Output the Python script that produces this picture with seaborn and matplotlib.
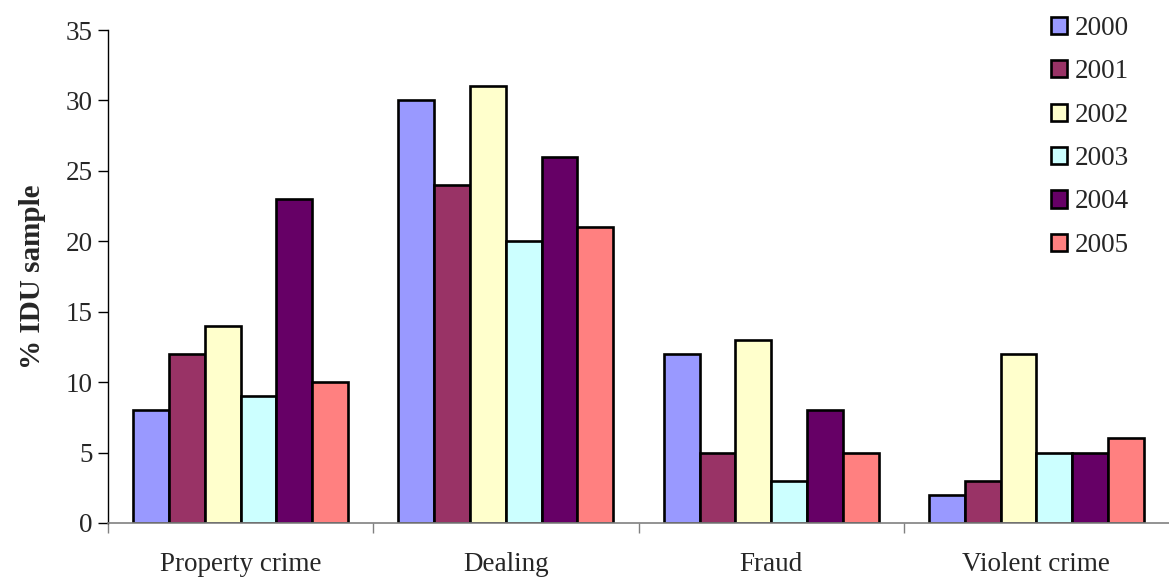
import matplotlib
matplotlib.use("Agg")
import matplotlib.pyplot as plt
import seaborn as sns
import pandas as pd

categories = ["Property crime", "Dealing", "Fraud", "Violent crime"]
years = ["2000", "2001", "2002", "2003", "2004", "2005"]
v2000 = [8, 30, 12, 2]
v2001 = [12, 24, 5, 3]
v2002 = [14, 31, 13, 12]
v2003 = [9, 20, 3, 5]
v2004 = [23, 26, 8, 5]
v2005 = [10, 21, 5, 6]
colors = ["#9999FF", "#993366", "#FFFFCC", "#CCFFFF", "#660066", "#FF8080"]

series = [v2000, v2001, v2002, v2003, v2004, v2005]
rows = []
for y, vals in zip(years, series):
    for c, v in zip(categories, vals):
        rows.append({"Category": c, "Year": y, "Value": v})
df = pd.DataFrame(rows)

sns.set_style("white")
plt.rcParams["font.family"] = ["Liberation Serif", "DejaVu Serif"]

fig = plt.figure(figsize=(11.69, 5.8), dpi=100)
ax = fig.add_axes([108 / 1169, 1 - 523 / 580, (1169 - 108) / 1169, (523 - 30) / 580])

sns.barplot(data=df, x="Category", y="Value", hue="Year", order=categories,
            hue_order=years, palette=colors, width=0.81, edgecolor="black",
            linewidth=1.9, saturation=1, ax=ax, legend=True)

ax.set_xlim(-0.5, 3.5)
ax.set_ylim(0, 35)
ax.set_yticks(range(0, 36, 5))
ax.tick_params(axis="y", labelsize=19.5, length=7, width=1, color="black", direction="out", left=True, pad=4)
ax.set_xticks(range(len(categories)))
ax.set_xticklabels(categories)
ax.tick_params(axis="x", which="major", length=0, labelsize=19.5, pad=21)
ax.set_xticks([-0.5, 0.5, 1.5, 2.5], minor=True)
ax.tick_params(axis="x", which="minor", length=7, width=1, color="#808080", direction="out", bottom=True)

for s in ["top", "right"]:
    ax.spines[s].set_visible(False)
ax.spines["left"].set_color("black")
ax.spines["left"].set_linewidth(1)
ax.spines["bottom"].set_color("#808080")
ax.spines["bottom"].set_linewidth(1.2)

ax.set_xlabel("")
ax.set_ylabel("% IDU sample", fontsize=21, fontweight="bold", labelpad=14)

handles, labels = ax.get_legend_handles_labels()
ax.legend(handles, labels, loc="upper left", bbox_to_anchor=(1040 / 1169, 1 - 5 / 580),
          bbox_transform=fig.transFigure, frameon=False, fontsize=19.5,
          handlelength=0.6, handleheight=0.6, handletextpad=0.3, labelspacing=0.68,
          borderaxespad=0)

fig.savefig("out.png", dpi=100)
